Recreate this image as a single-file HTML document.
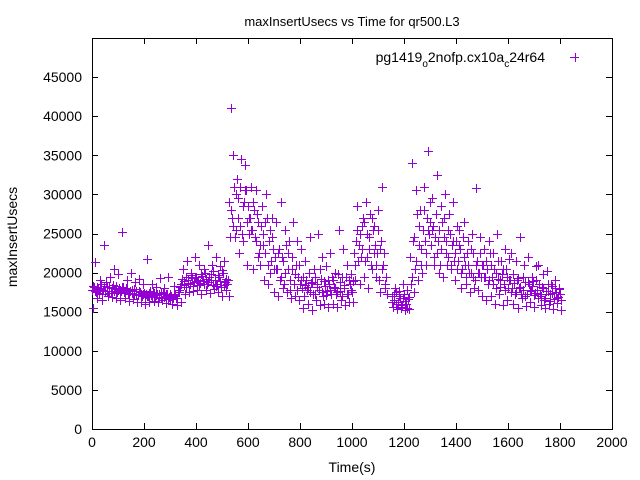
<!DOCTYPE html>
<html><head><meta charset="utf-8"><style>
html,body{margin:0;padding:0;background:#fff;}
svg{display:block;font-family:"Liberation Sans",sans-serif;}
</style></head><body>
<svg id="chart" width="640" height="480" viewBox="0 0 640 480" xmlns="http://www.w3.org/2000/svg">
<text x="352" y="26" font-size="13" text-anchor="middle">maxInsertUsecs vs Time for qr500.L3</text>
<rect x="92.5" y="38.5" width="520" height="391" fill="none" stroke="#000" stroke-width="1" shape-rendering="crispEdges"/>
<g id="ticks"></g>
<g id="points" shape-rendering="crispEdges"></g>
<text x="352" y="472" font-size="14" text-anchor="middle">Time(s)</text>
<text x="17" y="237" font-size="14" text-anchor="middle" transform="rotate(-90 17 237)">maxInsertUsecs</text>
<g>
<text x="545" y="62" font-size="14" text-anchor="end">pg1419<tspan font-size="10" dy="5">o</tspan><tspan dy="-5">2nofp.cx10a</tspan><tspan font-size="10" dy="5">c</tspan><tspan dy="-5">24r64</tspan></text>
<path d="M570 57.5h9M575.5 53v9" stroke="#9400d3" stroke-width="1" shape-rendering="crispEdges"/>
</g>
</svg>
<script>
const xTicks=[0,200,400,600,800,1000,1200,1400,1600,1800,2000];
const yTicks=[0,5000,10000,15000,20000,25000,30000,35000,40000,45000];
const times=[0,8,16,24,32,40,48,56,64,72,80,88,96,
104,112,120,128,136,144,152,160,168,176,184,192,200,
208,216,224,232,240,248,256,264,272,280,288,296,
304,312,320,328,336,344,352,360,368,376,384,392,400,
408,416,424,432,440,448,456,464,472,480,488,496,504,512,520,
528,536,544,552,560,568,576,584,592,600,
608,616,624,632,640,648,656,664,672,680,688,696,
704,712,720,728,736,744,752,760,768,776,784,792,800,
808,816,824,832,840,848,856,864,872,880,888,896,904,
912,920,928,936,944,952,960,968,976,984,992,1000,
1008,1016,1024,1032,1040,1048,1056,1064,1072,1080,1088,1096,1104,1112,1120,1128,
1136,1144,
1152,1160,1168,1176,1184,1192,1200,1208,1216,
1224,1232,1240,1248,1256,1264,1272,1280,1288,1296,
1304,1312,1320,1328,1336,1344,1352,1360,1368,1376,1384,1392,1400,
1408,1416,1424,1432,1440,1448,1456,1464,1472,1480,1488,1496,1504,
1512,1520,1528,1536,1544,1552,1560,1568,1576,1584,1592,1600,
1608,1616,1624,1632,1640,1648,1656,1664,1672,1680,1688,1696,1704,
1712,1720,1728,1736,1744,1752,1760,1768,1776,1784,1792,1800];
const valuesA=[17800,18200,17500,18000,17900,17300,18300,17700,18100,17600,18400,17900,17500,
18000,17600,18200,17400,17900,17300,17800,17200,17600,17100,17500,17000,17400,
17300,17000,17600,16900,17400,17100,17200,16800,17500,17000,17300,16900,
17000,16800,17200,16700,17500,18500,18900,18200,19000,18600,19300,18800,19500,
19000,18700,19600,18500,19200,18800,19800,18400,19000,18600,19500,18200,19900,18800,18500,
29000,28000,26000,30000,27000,31000,25000,29000,30500,28500,
27000,25500,28000,24000,26500,23500,25000,22500,27000,24000,21500,23000,
22000,20500,23000,19500,21500,20000,22500,19000,20500,18500,21000,19500,18500,
18000,17000,19000,18200,17500,18800,17200,18500,17800,19200,17000,18300,17600,
18500,17300,19000,18000,17500,18800,17000,18400,19500,17200,18600,17500,
22500,24000,21500,25000,23000,26500,22000,24500,21000,25500,23500,22500,19000,24000,21000,18500,
null,null,
17000,16500,17500,16200,16800,15800,17200,16000,16600,
22000,19500,24500,21500,26000,23000,25500,24000,27000,25000,
23500,26000,24500,22500,25500,23000,27000,24000,22000,25000,23500,21500,24000,
21500,23000,20500,22000,19500,21000,20000,22500,19000,21500,20000,19500,21000,
19500,20500,19000,21000,18500,20000,19200,18200,19800,18600,20500,18000,
19000,18000,18700,17500,19300,18200,17800,18800,17200,18500,17600,18900,17400,
17800,18500,17000,18000,16800,17700,17200,18300,16600,17500,16900,17200];
const valuesB=[15500,21300,16800,19000,16500,23500,18800,17000,19500,16900,20500,16700,19800,
16500,25200,16800,19000,16400,20000,16600,18800,16300,19200,16200,18500,16000,
21800,16200,18600,16400,18200,16300,19300,16500,18000,16100,19500,16600,
16000,18300,15900,17800,16200,20500,17300,21500,17500,20000,17600,22000,17800,
21000,17200,20500,17800,23500,17400,21000,17900,22000,17500,20800,17000,21500,17800,17000,
41000,35000,24500,32000,22500,34500,24000,33700,21000,27000,
31000,20500,30500,22000,21000,28500,19000,30000,18500,20000,27000,17500,
26500,17000,29000,18000,25500,17500,24000,16800,26500,17000,24000,16500,23000,
15500,21500,16000,24500,15200,20500,16500,25000,15800,22000,16000,20800,15600,
22500,16000,20000,15600,25500,16500,23000,15800,21000,16300,19800,16200,
19000,28500,18500,26000,19500,29000,18000,27500,20500,26000,19500,28000,17500,31000,18000,17200,
null,null,
15600,18000,15300,17600,15500,18500,15200,17800,15400,
34000,17500,30500,19000,28000,20000,31000,21000,35500,29000,
29500,21000,32500,20000,28500,19500,30000,21000,27500,20500,29000,19000,26000,
25500,18000,26500,18500,24000,17500,25000,18000,30800,17800,24500,17000,23000,
16500,24000,17000,22500,16000,25000,17300,21500,15800,23000,16500,21800,
22500,16000,21500,15500,24500,16800,21000,15700,22000,16200,19500,15600,20800,
21000,15800,19800,15500,20200,16000,18500,15400,19000,16100,18000,15200];
const valuesC=[18300,17600,18100,17400,18500,17800,17600,18200,17400,18000,17700,18300,17800,
17400,18100,17500,18000,17200,17700,17400,17900,17300,17700,17200,17300,17100,
17000,17400,17100,17500,16900,17300,16700,17400,16900,17200,16700,17300,
16600,17300,16800,17500,18200,19200,18400,19500,18700,19700,18300,19500,18900,
18400,19800,18900,20000,18500,19500,19100,20200,18300,19700,18900,20300,18400,19200,19000,
24500,27000,31000,25500,29500,26000,28500,30500,26500,25000,
25500,29000,24500,27500,22500,26000,23500,26500,21000,25500,24500,20500,
20500,22500,19000,22000,18500,23500,20500,17800,22000,19800,17800,21000,19000,
19500,18400,17800,20000,18700,17300,19500,18100,20500,17500,18900,17100,19000,
17800,19500,18200,17300,19800,17600,19400,18000,17300,19100,17800,18900,
21000,25500,23500,22000,27000,21500,25000,23000,27000,22500,21000,25500,23000,20500,22500,19500,
null,null,
16200,17200,16000,17000,15600,16800,16400,15500,16900,
18500,24000,20500,27500,23500,21000,28000,22500,25500,26500,
25500,22000,27500,24000,21000,26500,24500,22500,25500,21000,24000,22500,20500,
23500,20000,24500,21000,22500,20000,23000,19500,21000,20000,22500,21000,19500,
21500,18500,22500,19500,20500,18000,21500,19000,20500,17800,19500,19000,
17500,19800,17200,19000,18000,17300,19500,17000,18800,17800,18300,17100,19000,
16700,17300,18200,16500,17700,18500,16400,17400,18000,16800,17900,16500];

const X0=92,X1=612,Y0=429,Y1=38,XMAX=2000,YMAX=50000;
function xs(v){return X0+(v/XMAX)*(X1-X0);}
function ys(v){return Y0-(v/YMAX)*(Y0-Y1);}
const NS='http://www.w3.org/2000/svg';
const tg=document.getElementById('ticks');
let d='';
xTicks.forEach(t=>{const x=Math.round(xs(t))+0.5;d+=`M${x} ${Y0}v-6M${x} ${Y1}v6`;
 const tx=document.createElementNS(NS,'text');
 
 
 tx.setAttribute('x',xs(t));tx.setAttribute('y',447);tx.setAttribute('font-size','14');tx.setAttribute('text-anchor','middle');tx.textContent=t;tg.appendChild(tx);});
yTicks.forEach(t=>{const y=Math.round(ys(t))+0.5;d+=`M${X0} ${y}h6M${X1} ${y}h-6`;
 const tx=document.createElementNS(NS,'text');
 
 
 tx.setAttribute('x',82);tx.setAttribute('y',ys(t)+5);tx.setAttribute('font-size','14');tx.setAttribute('text-anchor','end');tx.textContent=t;tg.appendChild(tx);});
const tp=document.createElementNS(NS,'path');


tp.setAttribute('d',d);tp.setAttribute('stroke','#000');tp.setAttribute('fill','none');tp.setAttribute('shape-rendering','crispEdges');tg.appendChild(tp);

const pg=document.getElementById('points');
function mark(t,v){
 if(v===null||v===undefined)return;
 const x=Math.round(xs(t))+0.5,y=Math.round(ys(v))+0.5;
 const p=document.createElementNS(NS,'path');
 
 
 p.setAttribute('d',`M${x-4.5} ${y}h9M${x} ${y-4.5}v9`);
 p.setAttribute('stroke','#9400d3');p.setAttribute('stroke-width','1');
 pg.appendChild(p);
}
times.forEach((t,i)=>{mark(t,valuesA[i]);mark(t+3,valuesC[i]);mark(t+5,valuesB[i]);});
</script>
</body></html>
